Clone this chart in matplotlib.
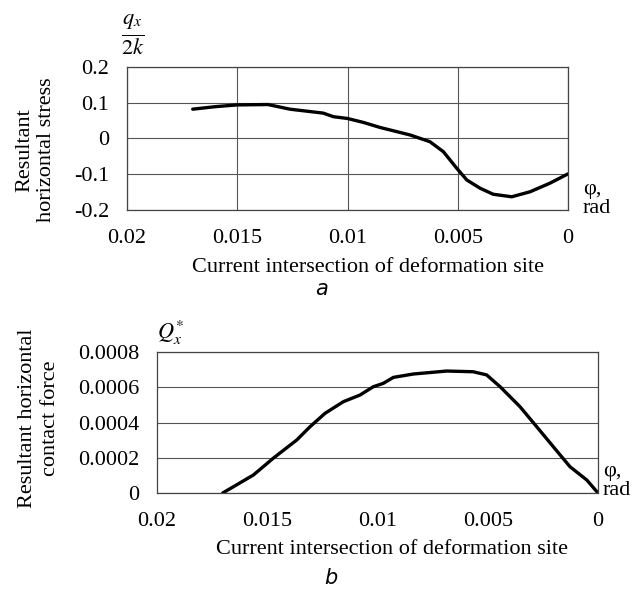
import numpy as np
import matplotlib.pyplot as plt

plt.rcParams['font.family'] = ['Liberation Serif', 'DejaVu Serif']
plt.rcParams['mathtext.fontset'] = 'stix'

# (a) resultant horizontal stress q_x / 2k
phi_a = [0.01702, 0.0160, 0.0150, 0.01361, 0.01261, 0.0111, 0.01064,
         0.0100, 0.00928, 0.00853, 0.00717, 0.00626, 0.00565, 0.00505,
         0.00459, 0.00399, 0.00339, 0.00255, 0.00172, 0.00082, 0.0]
stress = [0.082, 0.089, 0.094, 0.095, 0.082, 0.071, 0.061,
          0.056, 0.045, 0.031, 0.010, -0.009, -0.037, -0.083,
          -0.116, -0.139, -0.156, -0.163, -0.149, -0.125, -0.099]

# (b) resultant horizontal contact force Q_x*
phi_b = [0.01702, 0.01563, 0.01473, 0.01366, 0.01306, 0.01238, 0.01155,
         0.01079, 0.01019, 0.00974, 0.00928, 0.00838, 0.00686, 0.00566,
         0.00505, 0.00444, 0.00354, 0.00278, 0.00203, 0.00127, 0.00051, 0.0]
force = [0.0, 0.000102, 0.000197, 0.000301, 0.000376, 0.000452, 0.000518,
         0.000556, 0.000603, 0.000622, 0.000656, 0.000675, 0.000692, 0.000688,
         0.00067, 0.000603, 0.00049, 0.000376, 0.000263, 0.000149, 0.000074,
         0.0]

xticks = [0.02, 0.015, 0.01, 0.005, 0]
xticklabels = ['0.02', '0.015', '0.01', '0.005', '0']

W, H = 642, 590
fig = plt.figure(figsize=(W / 100, H / 100), dpi=100)

def box(l, t, r, b):
    return [l / W, 1 - b / H, (r - l) / W, (b - t) / H]

fs = 16

# --- top panel ---
ax1 = fig.add_axes(box(127, 67, 568, 210))
ax1.plot(phi_a, stress, color='black', lw=2.4, solid_capstyle='round',
         solid_joinstyle='round')
ax1.set_xlim(0.02, 0)
ax1.set_ylim(-0.2, 0.2)
ax1.set_xticks(xticks)
ax1.set_xticklabels(xticklabels)
ax1.set_yticks([-0.2, -0.1, 0, 0.1, 0.2])
ax1.set_yticklabels(['-0.2', '-0.1', '0', '0.1', '0.2'])
ax1.grid(True, color='#555555', lw=0.8)
ax1.set_axisbelow(True)

# --- bottom panel ---
ax2 = fig.add_axes(box(157, 352, 598, 493))
ax2.plot(phi_b, force, color='black', lw=2.4, solid_capstyle='round',
         solid_joinstyle='round')
ax2.set_xlim(0.02, 0)
ax2.set_ylim(0, 0.0008)
ax2.set_xticks(xticks)
ax2.set_xticklabels(xticklabels)
ax2.set_yticks([0, 0.0002, 0.0004, 0.0006, 0.0008])
ax2.set_yticklabels(['0', '0.0002', '0.0004', '0.0006', '0.0008'])
ax2.grid(True, axis='y', color='#555555', lw=0.8)
ax2.set_axisbelow(True)

for ax in (ax1, ax2):
    ax.tick_params(length=0, labelsize=fs, pad=13)
    ax.tick_params(axis='x', pad=14)
    for s in ax.spines.values():
        s.set_color('#444444')
        s.set_linewidth(0.9)

def ft(x, y, s, **kw):
    fig.text(x / W, 1 - y / H, s, **kw)

# axis titles and labels
ft(133, 35, r'$\frac{q_x}{2k}$', fontsize=23, ha='center', va='center')
ft(36, 150, 'Resultant\nhorizontal stress', fontsize=fs, rotation=90,
   ha='center', va='center', linespacing=1.2)
ft(368, 267, 'Current intersection of deformation site', fontsize=fs,
   ha='center', va='center')
ft(583, 199, 'φ,\nrad', fontsize=fs, ha='left', va='center', linespacing=0.95)
ft(322, 289, 'a', fontsize=15, style='italic', family='DejaVu Sans',
   ha='center', va='center')

ft(171, 333, r'$Q_x^{*}$', fontsize=16, ha='center', va='center')
ft(39, 418, 'Resultant horizontal\ncontact force', fontsize=fs, rotation=90,
   ha='center', va='center', linespacing=1.3)
ft(392, 550, 'Current intersection of deformation site', fontsize=fs,
   ha='center', va='center')
ft(603, 481, 'φ,\nrad', fontsize=fs, ha='left', va='center', linespacing=0.95)
ft(331, 578, 'b', fontsize=15, style='italic', family='DejaVu Sans',
   ha='center', va='center')

fig.savefig('out.png', dpi=100)
